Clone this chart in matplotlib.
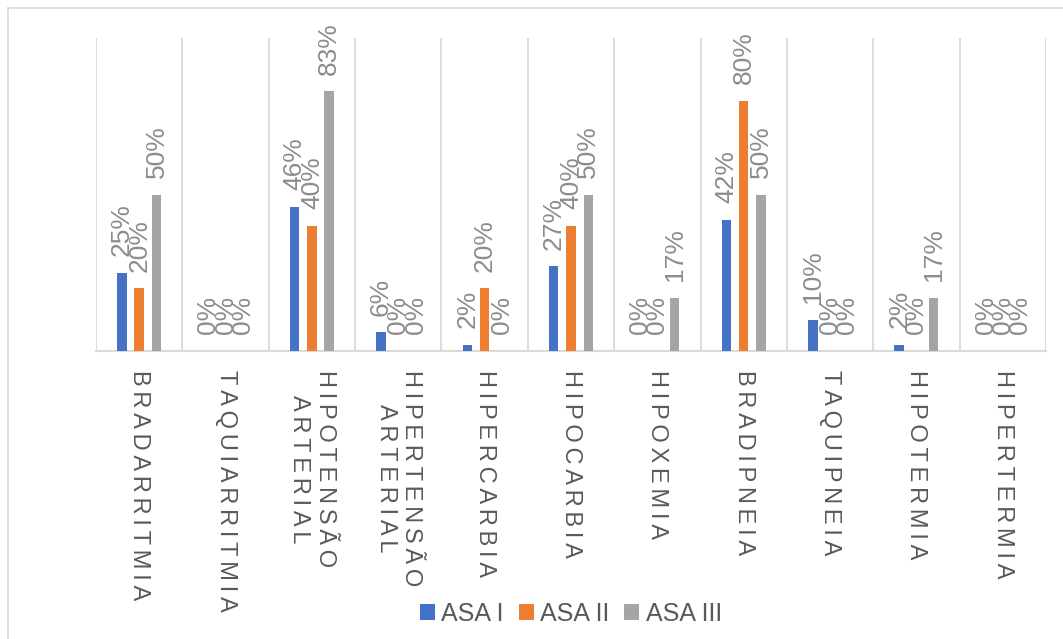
import matplotlib
matplotlib.use('Agg')
import matplotlib.pyplot as plt
from matplotlib.lines import Line2D
import numpy as np

plt.rcParams['font.family'] = ['Liberation Sans', 'DejaVu Sans']

categorias = ['BRADARRITMIA', 'TAQUIARRITMIA', 'HIPOTENSÃO ARTERIAL', 'HIPERTENSÃO ARTERIAL',
              'HIPERCARBIA', 'HIPOCARBIA', 'HIPOXEMIA', 'BRADIPNEIA', 'TAQUIPNEIA',
              'HIPOTERMIA', 'HIPERTERMIA']
asa1 = [25, 0, 46, 6, 2, 27, 0, 42, 10, 2, 0]
asa2 = [20, 0, 40, 0, 20, 40, 0, 80, 0, 0, 0]
asa3 = [50, 0, 83, 0, 0, 50, 17, 50, 0, 17, 0]
series = ['ASA I', 'ASA II', 'ASA III']
cores = ['#4472C4', '#ED7D31', '#A5A5A5']


def espacar(txt):
    # espaçamento entre letras estilo excel, uma palavra por linha
    return '\n'.join('\u2009'.join(palavra) for palavra in txt.split(' '))


fig = plt.figure(figsize=(10.63, 6.39), dpi=100)
ax = fig.add_axes([96/1063, 1-351/639, 950/1063, 313/639])

x = np.arange(len(categorias))
largura = 0.11
for i, (vals, nome, cor) in enumerate(zip([asa1, asa2, asa3], series, cores)):
    barras = ax.bar(x + (i-1)*0.2, vals, largura, color=cor, label=nome, zorder=3)
    ax.bar_label(barras, labels=[f'{v}%' for v in vals], rotation=90, padding=12,
                 color='#8C8C8C', fontsize=19)

ax.set_xlim(-0.5, len(categorias)-0.5)
ax.set_ylim(0, 100)
ax.set_yticks([])
ax.set_xticks(x)
ax.set_xticklabels([espacar(c) for c in categorias], rotation=-90, ha='center', va='top',
                   multialignment='center', fontsize=17, color='#595959')
ax.set_xticks(np.arange(-0.5, len(categorias)), minor=True)
ax.tick_params(axis='x', which='both', length=0, pad=14)
ax.grid(axis='x', which='minor', color='#D9D9D9', linewidth=1.3, zorder=0)
for lado in ['top', 'left', 'right']:
    ax.spines[lado].set_visible(False)
ax.spines['bottom'].set_color('#D9D9D9')
ax.spines['bottom'].set_linewidth(1.5)

fig.legend(loc='center', bbox_to_anchor=(0.537, 0.039), ncol=3, frameon=False,
           fontsize=18, handlelength=0.6, handleheight=0.6, handletextpad=0.25,
           columnspacing=0.6, labelcolor='#595959')

# borda do grafico
fig.add_artist(Line2D([7.5/1063, 7.5/1063], [0, 1-7.5/639], color='#D9D9D9', lw=1.2))
fig.add_artist(Line2D([7.5/1063, 1], [1-7.5/639, 1-7.5/639], color='#D9D9D9', lw=1.2))

plt.savefig('out.png', dpi=100)
